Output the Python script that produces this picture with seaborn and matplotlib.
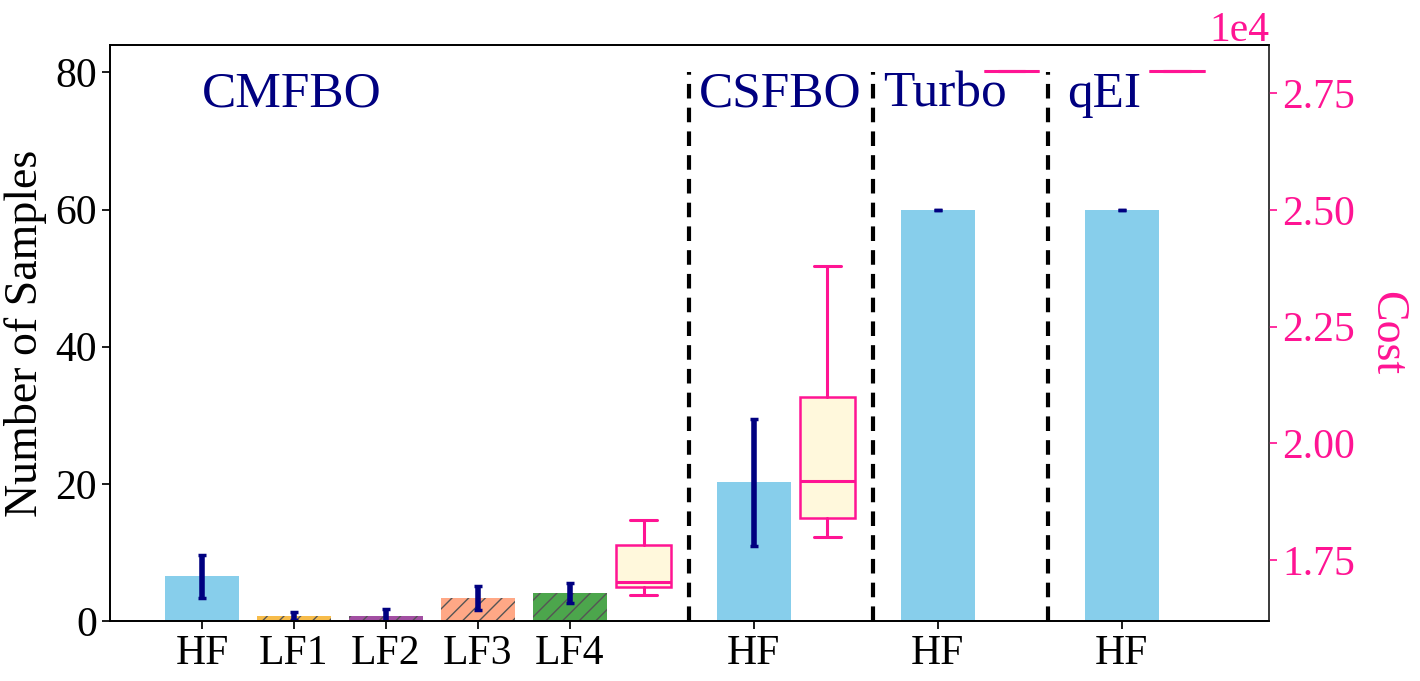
import matplotlib
matplotlib.use("Agg")
import matplotlib.pyplot as plt
from matplotlib.ticker import MultipleLocator
import numpy as np
import pandas as pd
import seaborn as sns

# --- data ---
bar_labels = ["HF", "LF1", "LF2", "LF3", "LF4", "HF", "HF", "HF"]
sample_mean = [6.5, 0.7, 0.8, 3.3, 4.1, 20.2, 60.0, 60.0]
sample_err = [3.1, 0.6, 0.9, 1.75, 1.5, 9.2, 0.0, 0.0]
bar_colors = ["#87CEEB", "#F7BC4A", "#A24FA2", "#FFA886", "#4CA64C",
              "#87CEEB", "#87CEEB", "#87CEEB"]
bar_hatch = ["", "//", "//", "//", "//", "", "", ""]

methods = ["CMFBO", "CSFBO", "Turbo", "qEI"]
cost_whislo = [16760, 18000, 27970, 27970]
cost_q1 = [16930, 18400, 27970, 27970]
cost_med = [17030, 19200, 27970, 27970]
cost_q3 = [17830, 20990, 27970, 27970]
cost_whishi = [18360, 23790, 27970, 27970]

# layout
bar_pos = [0, 1, 2, 3, 4, 6, 8, 10]
box_pos = [4.8, 6.8, 8.8, 10.6]
sep_pos = [5.3, 7.3, 9.2]
label_pos = [0.0, 5.4, 7.4, 9.4]

PINK = "#FF1493"

sns.set_theme(style="ticks")
plt.rcParams["font.family"] = ["Liberation Serif", "DejaVu Serif"]
plt.rcParams.update({
    "text.color": "black",
    "axes.labelcolor": "black",
    "xtick.color": "black",
    "ytick.color": "black",
    "axes.edgecolor": "black",
    "hatch.color": "#555555",
})

df = pd.DataFrame({"pos": bar_pos, "mean": sample_mean})

fig = plt.figure(figsize=(14.2, 6.81), dpi=100)
ax = fig.add_axes([110 / 1420, 1 - 621 / 681, (1269 - 110) / 1420, (621 - 45) / 681])

sns.barplot(data=df, x="pos", y="mean", native_scale=True, width=0.8,
            errorbar=None, color="#87CEEB", ax=ax)
for patch in ax.patches:
    i = bar_pos.index(round(patch.get_x() + patch.get_width() / 2))
    patch.set_facecolor(bar_colors[i])
    patch.set_hatch(bar_hatch[i])
    patch.set_edgecolor("#555555")
    patch.set_linewidth(0)

ax.errorbar(bar_pos, sample_mean, yerr=sample_err, fmt="none", ecolor="navy",
            elinewidth=4, capsize=3, capthick=2.5)

for x in sep_pos:
    ax.vlines(x, 0, 80, colors="black", linestyles=(0, (3.5, 2.2)), linewidth=3)

for name, x in zip(methods, label_pos):
    ax.text(x, 75, name, color="navy", fontsize=37, ha="left", va="baseline")

ax.set_xlim(-1, 11.6)
ax.set_ylim(0, 84)
ax.set_xticks(bar_pos)
ax.set_xticklabels(bar_labels)
ax.set_xlabel("")
ax.set_ylabel("Number of Samples", fontsize=33, labelpad=6)
ax.tick_params(axis="both", labelsize=30)

ax2 = ax.twinx()
stats = []
for i in range(len(methods)):
    stats.append(dict(med=cost_med[i], q1=cost_q1[i], q3=cost_q3[i],
                      whislo=cost_whislo[i], whishi=cost_whishi[i], fliers=[]))
ax2.bxp(stats, positions=box_pos, widths=0.6, patch_artist=True, showfliers=False,
        boxprops=dict(facecolor="cornsilk", edgecolor=PINK, linewidth=1.8),
        whiskerprops=dict(color=PINK, linewidth=2.2),
        capprops=dict(color=PINK, linewidth=2.2),
        medianprops=dict(color=PINK, linewidth=2.2))
ax2.set_ylim(16200, 28530)
ax2.yaxis.set_major_locator(MultipleLocator(2500))
ax2.ticklabel_format(style="sci", axis="y", scilimits=(0, 0))
ax2.yaxis.get_offset_text().set_color(PINK)
ax2.yaxis.get_offset_text().set_fontsize(30)
ax2.tick_params(axis="y", colors=PINK, labelsize=30)
ax2.set_ylabel("Cost", color=PINK, fontsize=33, rotation=270, labelpad=38)
ax2.spines["right"].set_color("#444444")
ax.set_xlim(-1, 11.6)
ax.set_xticks(bar_pos)
ax.set_xticklabels(bar_labels)

fig.savefig("out.png", dpi=100)
